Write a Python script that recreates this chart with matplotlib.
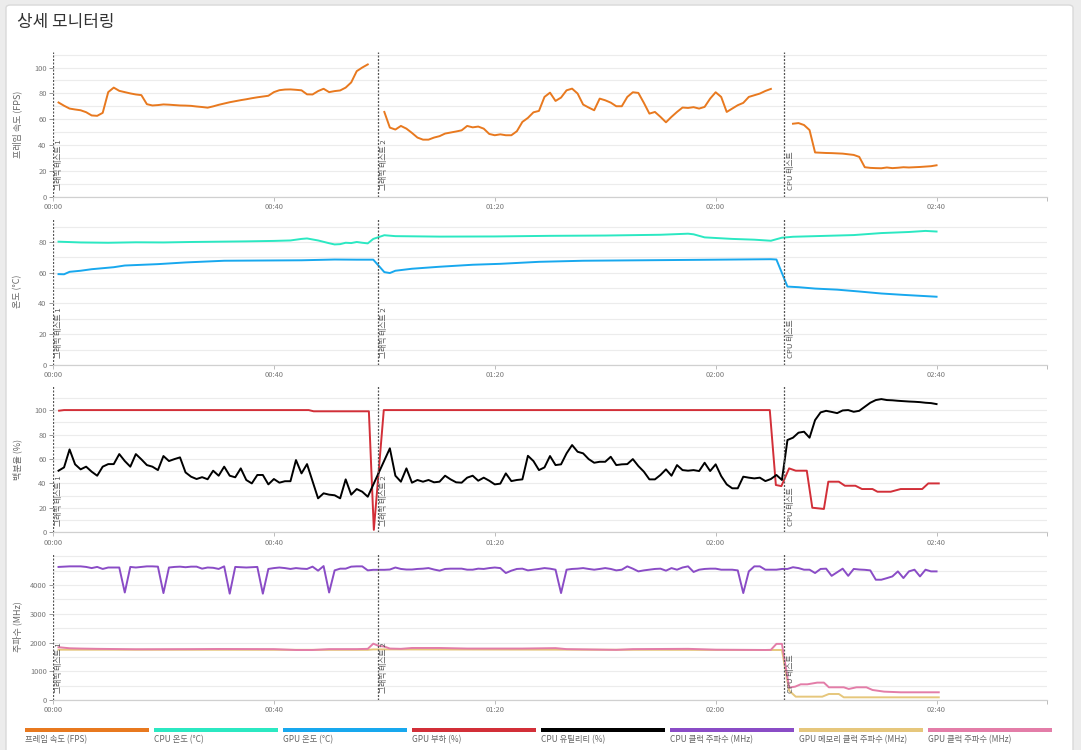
import numpy as np
import matplotlib
matplotlib.use('Agg')
import matplotlib.pyplot as plt
from matplotlib.patches import FancyBboxPatch, Rectangle
from matplotlib.ticker import MultipleLocator
from matplotlib.transforms import blended_transform_factory

plt.rcParams['font.family'] = ['Noto Sans CJK KR', 'DejaVu Sans']

title = '상세 모니터링'

# sampling grid (minutes since start, one sample per minute)
minutes = list(range(1, 161))

fps = [73.0, 70.5, 68.3, 67.6, 67.0, 65.5, 63.0, 62.7, 65.0, 81.0,
       84.5, 82.0, 81.0, 80.0, 79.2, 78.7, 71.7, 70.7, 71.0, 71.5,
       71.3, 71.0, 70.7, 70.6, 70.4, 69.9, 69.5, 69.0, 70.0, 71.2,
       72.2, 73.2, 74.0, 74.8, 75.5, 76.3, 77.0, 77.6, 78.2, 81.0,
       82.5, 83.0, 83.1, 82.8, 82.4, 79.3, 79.2, 81.8, 83.6, 81.0,
       81.8, 82.3, 84.5, 88.5, 97.2, 100.0, 102.4, None, None, 65.7,
       53.6, 52.1, 54.9, 52.8, 49.5, 45.9, 44.3, 44.3, 45.9, 47.0,
       49.0, 49.8, 50.6, 51.5, 54.9, 53.8, 54.4, 52.8, 48.7, 47.7,
       48.4, 47.7, 47.7, 50.8, 58.0, 61.1, 65.4, 66.5, 77.3, 80.6,
       74.2, 76.8, 82.4, 83.7, 79.9, 71.4, 69.1, 67.0, 76.0, 74.7,
       72.9, 70.1, 70.1, 77.3, 80.9, 80.4, 72.7, 64.4, 65.7, 61.9,
       57.7, 61.9, 65.7, 69.1, 68.8, 69.4, 68.3, 69.6, 76.0, 80.9,
       77.3, 65.7, 68.3, 70.9, 72.7, 77.3, 78.6, 79.9, 81.9, 83.5,
       None, None, None, 56.6, 57.1, 55.6, 51.7, 34.4, 34.2, 34.0,
       33.9, 33.7, 33.5, 33.0, 32.5, 31.0, 23.0, 22.5, 22.3, 22.2,
       22.8, 22.3, 22.6, 23.0, 22.8, 23.0, 23.2, 23.5, 23.8, 24.5]

cpu_util = [50.4, 53.1, 67.8, 55.6, 51.5, 53.7, 49.6, 46.3, 53.7, 55.8,
            55.8, 64.0, 58.3, 53.7, 64.0, 59.7, 55.0, 53.7, 50.9, 62.4,
            58.3, 59.9, 61.3, 49.0, 45.5, 43.6, 45.1, 43.4, 50.4, 46.3,
            53.7, 46.3, 45.0, 52.3, 42.8, 40.0, 46.9, 46.9, 39.2, 43.6,
            40.6, 41.8, 41.8, 59.1, 48.2, 55.8, 41.8, 27.8, 31.9, 30.8,
            30.3, 27.8, 43.3, 30.8, 35.4, 33.2, 29.1, None, None, None,
            68.7, 46.3, 41.4, 52.3, 40.6, 42.8, 41.4, 42.8, 40.9, 41.4,
            46.3, 43.3, 40.9, 40.6, 44.7, 46.3, 42.2, 44.7, 42.2, 39.2,
            39.8, 48.2, 41.9, 42.8, 43.3, 62.6, 58.3, 50.9, 53.1, 62.4,
            55.0, 55.6, 64.6, 71.4, 65.9, 64.6, 59.9, 56.9, 57.7, 57.7,
            61.8, 55.0, 55.6, 55.8, 59.9, 54.2, 49.6, 43.3, 43.3, 46.9,
            51.5, 46.3, 55.0, 50.9, 50.4, 50.9, 50.1, 56.9, 50.1, 55.6,
            46.0, 39.2, 36.0, 36.0, 45.5, 44.7, 44.1, 44.7, 41.9, 43.6,
            46.9, 42.8, 75.5, 77.4, 81.5, 82.3, 77.4, 91.8, 98.1, 99.4,
            98.5, 97.5, 99.7, 100.0, 98.6, 99.4, 102.7, 106.0, 108.2, 109.0,
            108.2, 108.0, 107.6, 107.3, 107.0, 106.8, 106.5, 106.0, 105.7, 104.9]

cpu_clock = [4630, 4640, 4650, 4650, 4650, 4630, 4590, 4630, 4560, 4610,
             4610, 4610, 3740, 4630, 4610, 4630, 4650, 4650, 4640, 3720,
             4610, 4630, 4640, 4620, 4640, 4640, 4570, 4610, 4600, 4560,
             4650, 3700, 4630, 4620, 4610, 4620, 4630, 3700, 4560, 4590,
             4610, 4590, 4560, 4590, 4570, 4560, 4640, 4500, 4660, 3740,
             4510, 4570, 4570, 4640, 4650, 4650, 4510, 4530, 4530, 4530,
             4540, 4610, 4560, 4540, 4540, 4560, 4570, 4590, 4540, 4500,
             4560, 4570, 4570, 4570, 4534, 4534, 4570, 4560, 4590, 4610,
             4590, 4418, 4500, 4560, 4570, 4510, 4534, 4560, 4590, 4570,
             4534, 3721, 4534, 4560, 4570, 4590, 4560, 4534, 4560, 4590,
             4560, 4510, 4534, 4650, 4570, 4475, 4510, 4534, 4560, 4570,
             4500, 4590, 4534, 4610, 4650, 4455, 4534, 4560, 4570, 4570,
             4534, 4534, 4534, 4510, 3721, 4475, 4650, 4650, 4534, 4534,
             4534, 4560, 4560, 4620, 4590, 4534, 4534, 4418, 4560, 4570,
             4320, 4445, 4570, 4320, 4560, 4540, 4530, 4510, 4185, 4185,
             4240, 4300, 4475, 4243, 4475, 4534, 4300, 4534, 4475, 4475]

cpu_temp_t = [1, 5, 10, 15, 20, 25, 30, 35, 40, 43,
              45, 46, 48, 50, 51, 52, 53, 54, 55, 56,
              57, 58, 60, 62, 70, 80, 90, 100, 110, 115,
              116, 118, 123, 127, 130, 132, 134, 140, 145, 150,
              155, 158, 160]
cpu_temp = [80.2, 79.7, 79.5, 79.8, 79.7, 80.0, 80.2, 80.4, 80.7, 81.0,
            82.0, 82.3, 81.0, 79.2, 78.4, 78.6, 79.5, 79.3, 80.0, 79.5,
            79.1, 82.0, 84.4, 83.8, 83.5, 83.6, 84.0, 84.2, 84.7, 85.4,
            85.0, 83.0, 82.0, 81.5, 80.8, 82.8, 83.4, 84.0, 84.5, 85.8,
            86.5, 87.2, 86.8]

gpu_temp_t = [1, 2, 3, 5, 7, 11, 13, 19, 24, 31,
              45, 51, 55, 58, 60, 61, 62, 65, 70, 76,
              81, 88, 96, 117, 130, 131, 133, 135, 138, 142,
              146, 150, 154, 157, 160]
gpu_temp = [59.1, 59.0, 60.6, 61.3, 62.3, 63.6, 64.7, 65.6, 66.7, 67.8,
            68.1, 68.6, 68.5, 68.5, 60.4, 59.8, 61.3, 62.6, 63.9, 65.2,
            65.8, 67.1, 67.8, 68.4, 68.8, 68.6, 51.0, 50.6, 49.7, 49.0,
            47.8, 46.5, 45.6, 45.0, 44.4]

gpu_load_t = [1.1, 2, 46.3, 47.2, 57.2, 58.1, 59.9, 129.8, 130.9, 131.9,
              133.3, 134.5, 136.5, 137.5, 139.6, 140.4, 142.3, 143.4, 145.3, 146.5,
              148.4, 149.3, 151.7, 153.5, 157.4, 158.5, 160.4]
gpu_load = [99.5, 100, 100, 99, 99, 2, 100, 100, 38.7, 37.8,
            52.3, 50.4, 50.4, 20.1, 19.1, 41.4, 41.4, 38.1, 38.1, 35.4,
            35.4, 33.2, 33.2, 35.4, 35.4, 40, 40]

gpu_mem_t = [1, 57, 58, 60, 131, 132, 133.3, 134.5, 139.3, 140.5, 142.3, 143.2, 160.4]
gpu_mem_clock = [1750, 1745, 1760, 1760, 1740, 1740, 325, 116, 116, 209, 209, 93, 93]

gpu_clock_t = [1, 3, 5, 8, 15, 25, 30, 40, 44, 47,
               50, 55, 57, 58, 59, 60, 61, 63, 65, 70,
               75, 85, 91, 93, 100, 102, 105, 115, 120, 129,
               130, 131, 132, 133.3, 134.4, 135.4, 136.6, 138.4, 139.6, 140.5,
               143.2, 144.1, 145.5, 147.3, 148.4, 150.5, 153.5, 160.4]
gpu_clock = [1837, 1800, 1790, 1780, 1765, 1770, 1775, 1770, 1740, 1740,
             1770, 1770, 1780, 1960, 1880, 1860, 1790, 1780, 1810, 1810,
             1790, 1790, 1805, 1770, 1750, 1745, 1770, 1780, 1750, 1740,
             1745, 1953, 1953, 430, 465, 546, 546, 605, 605, 442,
             442, 384, 442, 442, 349, 291, 268, 268]

marker_t = [0, 58.8, 132.4]
marker_labels = ['그래픽 테스트 1', '그래픽 테스트 2', 'CPU 테스트']

tick_minutes = [0, 40, 80, 120, 160, 180]
tick_labels = ['00:00', '00:40', '01:20', '02:00', '02:40', '']

legend_labels = ['프레임 속도 (FPS)', 'CPU 온도 (°C)', 'GPU 온도 (°C)', 'GPU 부하 (%)',
                 'CPU 유틸리티 (%)', 'CPU 클럭 주파수 (MHz)', 'GPU 메모리 클럭 주파수 (MHz)',
                 'GPU 클럭 주파수 (MHz)']
colors = ['#E8791F', '#2BE8C2', '#18A8EE', '#D22F38', '#000000', '#8A4CC6', '#E6C77C', '#E37DA8']

ylabels = ['프레임 속도 (FPS)', '온도 (°C)', '백분율 (%)', '주파수 (MHz)']
ylims = [112, 95.6, 119.7, 5080]
yticks = [[0, 20, 40, 60, 80, 100], [0, 20, 40, 60, 80],
          [0, 20, 40, 60, 80, 100], [0, 1000, 2000, 3000, 4000]]
ygrid_step = [10, 10, 10, 500]

W, H = 1081, 750
fig = plt.figure(figsize=(W / 100, H / 100), dpi=100)
fig.patch.set_facecolor('#ececec')
card = FancyBboxPatch((6 / W, -0.05), 1067 / W, 1.0433,
                      boxstyle='round,pad=0,rounding_size=0.004',
                      transform=fig.transFigure, facecolor='white',
                      edgecolor='#d9d9d9', linewidth=1.0, zorder=-10)
fig.patches.append(card)

fig.text(17 / W, 1 - 22 / H, title, fontsize=12.2, color='#333333', va='center', ha='left')

panel_px = [(52, 197), (218, 365), (386, 532.3), (554, 700)]
left_px, right_px = 53, 1047
axes = []
for (top, bot) in panel_px:
    ax = fig.add_axes([left_px / W, 1 - bot / H, (right_px - left_px) / W, (bot - top) / H])
    ax.patch.set_alpha(0)
    ax.set_zorder(1)
    axes.append(ax)

t = np.array(minutes, dtype=float)
lw = 1.4

# panel 1: FPS (gaps between tests)
axes[0].plot(t, np.array(fps, dtype=float), color=colors[0], lw=lw, zorder=3)
# panel 2: temperatures
axes[1].plot(cpu_temp_t, cpu_temp, color=colors[1], lw=lw, zorder=3)
axes[1].plot(gpu_temp_t, gpu_temp, color=colors[2], lw=lw, zorder=3)
# panel 3: percentages
axes[2].plot(gpu_load_t, gpu_load, color=colors[3], lw=lw, zorder=3)
cu = np.array(cpu_util, dtype=float)
m = ~np.isnan(cu)
axes[2].plot(t[m], cu[m], color=colors[4], lw=lw, zorder=3)
# panel 4: clocks
axes[3].plot(t, cpu_clock, color=colors[5], lw=lw, zorder=3)
axes[3].plot(gpu_mem_t, gpu_mem_clock, color=colors[6], lw=lw, zorder=3)
axes[3].plot(gpu_clock_t, gpu_clock, color=colors[7], lw=lw, zorder=3)

for i, ax in enumerate(axes):
    ax.set_xlim(0, 180)
    ax.set_ylim(0, ylims[i])
    ax.set_yticks(yticks[i])
    ax.yaxis.set_minor_locator(MultipleLocator(ygrid_step[i]))
    ax.grid(True, which='both', axis='y', color='#ececec', lw=0.8, zorder=0)
    ax.set_axisbelow(True)
    ax.set_xticks(tick_minutes)
    ax.set_xticklabels(tick_labels)
    for s in ['top', 'right', 'left']:
        ax.spines[s].set_visible(False)
    ax.spines['bottom'].set_color('#d0d0d0')
    ax.spines['bottom'].set_linewidth(0.9)
    ax.tick_params(axis='y', which='major', length=3, width=0.7, color='#999999',
                   labelsize=5.4, labelcolor='#777777', pad=1.5)
    ax.tick_params(axis='y', which='minor', length=0)
    ax.tick_params(axis='x', length=3, width=0.7, color='#bbbbbb',
                   labelsize=5.4, labelcolor='#777777', pad=1.5)
    ax.set_ylabel(ylabels[i], fontsize=6.5, color='#666666')
    ax.yaxis.set_label_coords(-0.031, 0.5)
    tr = blended_transform_factory(ax.transData, ax.transAxes)
    for mt, ml in zip(marker_t, marker_labels):
        ax.axvline(mt, color='#555555', lw=0.9, ls=(0, (1.6, 1.2)), zorder=4)
        ax.text(mt + 0.45, 0.045, ml, transform=tr, rotation=90, fontsize=5.6,
                color='#555555', ha='left', va='bottom', zorder=5)

# legend at bottom
for i, (lab, c) in enumerate(zip(legend_labels, colors)):
    x0 = 25 + i * 129
    fig.patches.append(Rectangle((x0 / W, 1 - 731.5 / H), 124 / W, 4 / H,
                                 transform=fig.transFigure, facecolor=c,
                                 edgecolor='none', zorder=2))
    fig.text(x0 / W, 1 - 740 / H, lab, fontsize=6.0, color='#666666',
             ha='left', va='center')

fig.savefig('out.png', dpi=100, facecolor=fig.get_facecolor())
